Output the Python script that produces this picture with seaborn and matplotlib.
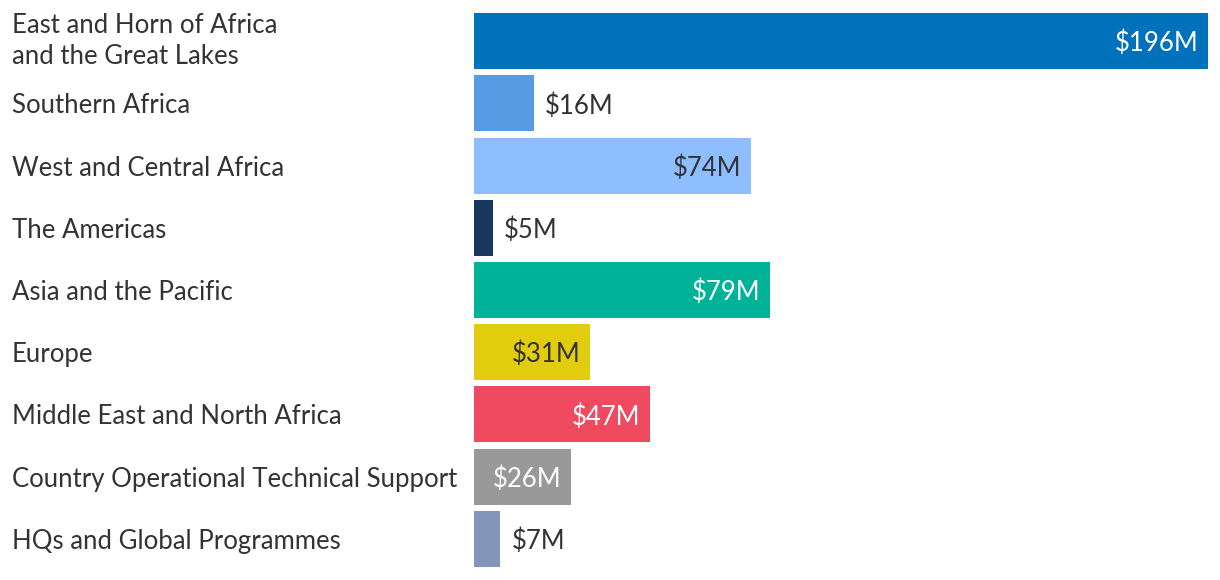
import seaborn as sns
import matplotlib.pyplot as plt
import matplotlib.transforms as mtransforms
import pandas as pd

regions = [
    "East and Horn of Africa\nand the Great Lakes",
    "Southern Africa",
    "West and Central Africa",
    "The Americas",
    "Asia and the Pacific",
    "Europe",
    "Middle East and North Africa",
    "Country Operational Technical Support",
    "HQs and Global Programmes",
]
funds = [196, 16, 74, 5, 79, 31, 47, 26, 7]
colors = ["#0072BC", "#589BE5", "#8EBEFF", "#18375F", "#00B398",
          "#E1CC0D", "#EF4A60", "#999999", "#8395B9"]
text_colors = ["white", "#333333", "#333333", "#333333", "white",
               "#333333", "white", "white", "#333333"]

df = pd.DataFrame({"region": regions, "funds": funds})

sns.set_style("white")
plt.rcParams["font.family"] = ["Lato", "DejaVu Sans"]

fig = plt.figure(figsize=(12.2, 5.8), dpi=100)
ax = fig.add_axes([474 / 1220, 10 / 580, 734 / 1220, 560 / 580])
sns.barplot(data=df, x="funds", y="region", hue="region", palette=colors,
            legend=False, width=0.9, saturation=1, linewidth=0, ax=ax)

ax.set_xlim(0, 196)
ax.set_ylim(8.5, -0.5)
ax.set_xlabel("")
ax.set_ylabel("")
ax.set_xticks([])
sns.despine(ax=ax, left=True, bottom=True)

ax.tick_params(axis="y", length=0, pad=(474 - 12) * 0.72)
for lab in ax.get_yticklabels():
    lab.set_ha("left")
    lab.set_fontsize(18.5)
    lab.set_color("#333333")
    lab.set_linespacing(1.32)

# the two-line label sits a bit high in the original
first = ax.get_yticklabels()[0]
first.set_transform(first.get_transform() +
                    mtransforms.ScaledTranslation(0, 6 / 100, fig.dpi_scale_trans))

for i, v in enumerate(funds):
    if v > 20:
        ax.annotate(f"${v}M", (v, i), xytext=(-7, 0), textcoords="offset points",
                    ha="right", va="center_baseline", fontsize=18.5, color=text_colors[i])
    else:
        ax.annotate(f"${v}M", (v, i), xytext=(8, 0), textcoords="offset points",
                    ha="left", va="center_baseline", fontsize=18.5, color="#333333")

plt.savefig("out.png", dpi=100)
